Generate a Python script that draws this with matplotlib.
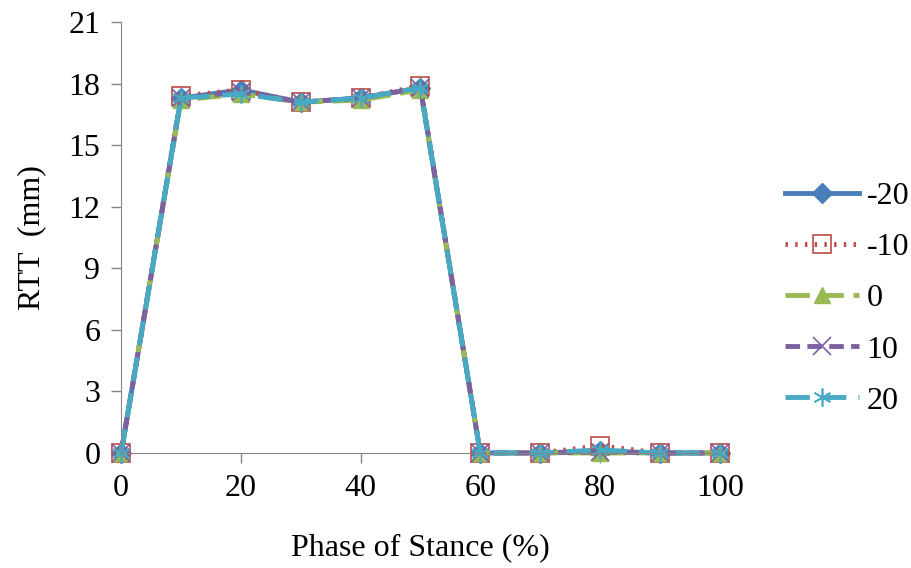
import matplotlib
matplotlib.use("Agg")
import matplotlib.pyplot as plt

plt.rcParams['font.family'] = ['Liberation Serif', 'DejaVu Serif']

# phase of stance (%)
phase = [0, 10, 20, 30, 40, 50, 60, 70, 80, 90, 100]

# RTT (mm) for each angle
rtt_m20 = [0, 17.3, 17.7, 17.1, 17.3, 17.8, 0, 0, 0.1, 0, 0]
rtt_m10 = [0, 17.4, 17.7, 17.1, 17.3, 17.9, 0, 0, 0.35, 0, 0]
rtt_0 = [0, 17.2, 17.5, 17.1, 17.2, 17.7, 0, 0, 0.0, 0, 0]
rtt_10 = [0, 17.3, 17.6, 17.1, 17.3, 17.8, 0, 0, 0.05, 0, 0]
rtt_20 = [0, 17.3, 17.5, 17.1, 17.3, 17.8, 0, 0, 0.15, 0, 0]

labels = ["-20", "-10", "0", "10", "20"]

fig = plt.figure(figsize=(9.11, 5.68), dpi=100)
ax = fig.add_axes([0.133, 0.2025, 0.657, 0.7585])

ax.plot(phase, rtt_m20, color="#4A7EBB", lw=3.5, ls="-", marker="D", ms=10,
        label=labels[0])
ax.plot(phase, rtt_m10, color="#BE4B48", lw=3.5, ls=(0, (0.5, 1.5)), marker="s", ms=13,
        mfc="none", mec="#BE4B48", mew=1.2, label=labels[1])
ax.plot(phase, rtt_0, color="#98B954", lw=3.5, ls=(0, (5, 2)), marker="^", ms=12,
        label=labels[2])
ax.plot(phase, rtt_10, color="#7D60A0", lw=3.5, ls=(0, (3, 1.5)), marker="x", ms=13,
        mew=1.2, label=labels[3])
ax.plot(phase, rtt_20, color="#46AAC5", lw=3.5, ls=(0, (5, 2.5)), marker=(6, 2, 0), ms=13,
        mew=1.2, label=labels[4])

ax.set_xlim(0, 100)
ax.set_ylim(0, 21)
ax.set_xticks(range(0, 101, 20))
ax.set_yticks(range(0, 22, 3))
ax.set_xlabel("Phase of Stance (%)", fontsize=23, labelpad=22)
ax.set_ylabel("RTT  (mm)", fontsize=23, labelpad=16)
ax.tick_params(labelsize=23, color="#868686", length=7, width=1, pad=8)

for s in ["top", "right"]:
    ax.spines[s].set_visible(False)
for s in ["left", "bottom"]:
    ax.spines[s].set_color("#868686")
    ax.spines[s].set_clip_on(False)
for ln in ax.lines:
    ln.set_clip_on(False)

fig.legend(loc="center left", bbox_to_anchor=(0.862, 0.474), frameon=False,
           fontsize=23, handlelength=2.3, labelspacing=0.68, handletextpad=0.25,
           borderpad=0, borderaxespad=0)

fig.savefig("out.png", dpi=100)
